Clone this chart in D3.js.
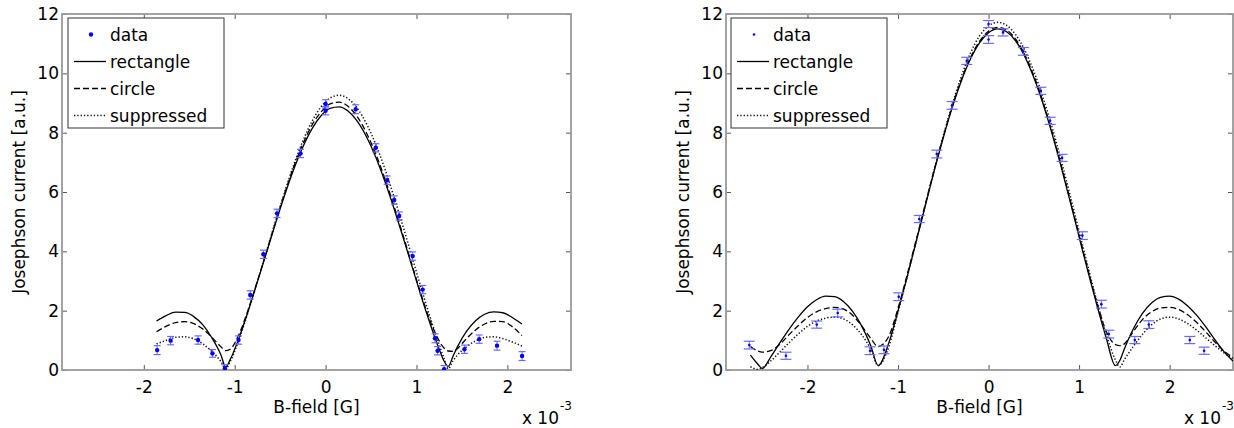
<!DOCTYPE html>
<html>
<head>
<meta charset="utf-8">
<script src="https://cdn.jsdelivr.net/npm/d3@7"></script>
<style>
body { margin: 0; background: #fff; }
svg text { font-family: "DejaVu Sans", sans-serif; font-size: 17px; fill: #000; }
</style>
</head>
<body>
<svg id="chart" width="1234" height="428"></svg>
<script>
// B-field in units of 1e-3 G, current in a.u.
var xTicks = [-2, -1, 0, 1, 2],
    yTicks = [0, 2, 4, 6, 8, 10, 12],
    legendLabels = ["data", "rectangle", "circle", "suppressed"];

// left panel measurements
var leftDataX = [-1.853, -1.705, -1.403, -1.245, -1.108, -0.958, -0.829, -0.685, -0.534, -0.276,
                 0.0, 0.0, 0.331, 0.552, 0.677, 0.755, 0.81, 0.958, 1.068, 1.204, 1.232, 1.304,
                 1.528, 1.69, 1.886, 2.162];
var leftDataY = [0.67, 0.99, 1.01, 0.56, 0.06, 1.01, 2.53, 3.90, 5.28, 7.30,
                 8.97, 8.74, 8.79, 7.49, 6.40, 5.73, 5.19, 3.84, 2.71, 1.07, 0.65, 0.03,
                 0.70, 1.04, 0.82, 0.47];
var leftDataErr = [0.15, 0.14, 0.14, 0.13, 0.12, 0.14, 0.14, 0.14, 0.14, 0.14,
                   0.14, 0.14, 0.15, 0.14, 0.14, 0.14, 0.14, 0.14, 0.14, 0.15, 0.14, 0.12,
                   0.14, 0.14, 0.15, 0.15];

// left panel model curves
var leftFitX = [-1.86, -1.75, -1.65, -1.55, -1.45, -1.35, -1.25, -1.15, -1.1, -1.05, -0.95, -0.85,
                -0.75, -0.65, -0.55, -0.45, -0.35, -0.25, -0.15, -0.05, 0.05, 0.15, 0.25, 0.35,
                0.45, 0.55, 0.65, 0.75, 0.85, 0.95, 1.05, 1.15, 1.25, 1.3, 1.35, 1.4, 1.45,
                1.55, 1.65, 1.75, 1.85, 1.95, 2.05, 2.16];
var leftRect = [1.65, 1.84, 1.95, 1.94, 1.80, 1.52, 1.08, 0.50, 0.10, 0.35, 1.10, 2.00,
                2.97, 3.96, 4.95, 5.90, 6.77, 7.52, 8.13, 8.57, 8.82, 8.87, 8.72, 8.38,
                7.86, 7.19, 6.38, 5.47, 4.50, 3.50, 2.50, 1.56, 0.70, 0.32, 0.12, 0.45, 0.78,
                1.30, 1.66, 1.88, 1.96, 1.93, 1.78, 1.55];
var leftCircle = [1.29, 1.48, 1.60, 1.63, 1.56, 1.38, 1.10, 0.78, 0.65, 0.70, 1.22, 2.05,
                  3.00, 3.99, 4.99, 5.96, 6.85, 7.62, 8.25, 8.70, 8.97, 9.03, 8.88, 8.53,
                  7.99, 7.30, 6.47, 5.55, 4.56, 3.55, 2.56, 1.66, 0.98, 0.75, 0.64, 0.63, 0.72,
                  1.06, 1.35, 1.55, 1.64, 1.63, 1.47, 1.16];
var leftSuppressed = [0.88, 1.00, 1.10, 1.12, 1.05, 0.88, 0.62, 0.28, 0.04, 0.28, 1.05, 1.98,
                      2.98, 4.00, 5.02, 6.00, 6.92, 7.72, 8.38, 8.87, 9.17, 9.26, 9.14, 8.82,
                      8.30, 7.62, 6.80, 5.86, 4.86, 3.82, 2.78, 1.78, 0.85, 0.42, 0.04, 0.30, 0.50,
                      0.78, 0.98, 1.10, 1.12, 1.06, 0.95, 0.81];

// right panel measurements
var rightDataX = [-2.643, -2.238, -1.898, -1.666, -1.309, -1.155, -0.992, -0.765, -0.572, -0.403,
                  -0.241, 0.0, 0.0, 0.16, 0.385, 0.577, 0.68, 0.812, 1.036, 1.246, 1.328,
                  1.615, 1.77, 2.223, 2.381];
var rightDataY = [0.84, 0.48, 1.53, 1.92, 0.65, 0.68, 2.47, 5.09, 7.28, 8.92,
                  10.42, 11.66, 11.14, 11.38, 10.74, 9.41, 8.40, 7.15, 4.53, 2.22, 1.21,
                  1.01, 1.53, 1.01, 0.65];
var rightDataErr = [0.13, 0.12, 0.12, 0.13, 0.13, 0.13, 0.13, 0.12, 0.13, 0.13,
                    0.12, 0.12, 0.13, 0.12, 0.13, 0.12, 0.12, 0.12, 0.13, 0.13, 0.13,
                    0.12, 0.13, 0.12, 0.12];

// right panel model curves
var rightFitX = [-2.63, -2.55, -2.5, -2.4, -2.3, -2.2, -2.1, -2.0, -1.9, -1.8, -1.7, -1.6, -1.5,
                 -1.4, -1.3, -1.22, -1.1, -1.0, -0.9, -0.8, -0.7, -0.6, -0.5, -0.4, -0.3, -0.2,
                 -0.1, 0.0, 0.1, 0.2, 0.3, 0.4, 0.5, 0.6, 0.7, 0.8, 0.9, 1.0, 1.1, 1.2, 1.3,
                 1.4, 1.45, 1.5, 1.6, 1.7, 1.8, 1.9, 2.0, 2.1, 2.2, 2.3, 2.4, 2.5, 2.6, 2.7];
var rightRect = [0.50, 0.20, 0.05, 0.47, 0.94, 1.39, 1.79, 2.13, 2.37, 2.49, 2.47, 2.30, 1.97,
                 1.48, 0.81, 0.15, 0.93, 1.99, 3.13, 4.32, 5.52, 6.71, 7.83, 8.86, 9.75, 10.48,
                 11.03, 11.37, 11.50, 11.40, 11.09, 10.57, 9.86, 8.99, 7.98, 6.87, 5.69, 4.49, 3.29, 2.15, 1.08,
                 0.15, 0.32, 0.71, 1.39, 1.91, 2.26, 2.45, 2.49, 2.39, 2.16, 1.84, 1.45, 1.02, 0.62, 0.30];
var rightCircle = [0.79, 0.64, 0.60, 0.66, 0.88, 1.20, 1.50, 1.77, 1.96, 2.07, 2.11, 2.05, 1.84,
                   1.48, 1.06, 0.79, 1.15, 2.08, 3.20, 4.38, 5.57, 6.75, 7.87, 8.89, 9.79, 10.53,
                   11.08, 11.42, 11.55, 11.46, 11.15, 10.63, 9.92, 9.05, 8.04, 6.93, 5.75, 4.55, 3.36, 2.24, 1.30,
                   0.86, 0.82, 0.88, 1.30, 1.70, 1.96, 2.09, 2.11, 2.04, 1.86, 1.60, 1.28, 0.94, 0.64, 0.42];
var rightSuppressed = [0.11, 0.02, 0.08, 0.32, 0.62, 0.93, 1.22, 1.47, 1.65, 1.75, 1.78, 1.72, 1.52,
                       1.18, 0.70, 0.15, 0.80, 1.95, 3.12, 4.33, 5.55, 6.75, 7.90, 8.96, 9.90, 10.68,
                       11.26, 11.60, 11.72, 11.62, 11.30, 10.78, 10.07, 9.20, 8.20, 7.09, 5.90, 4.68, 3.46, 2.28, 1.20,
                       0.35, 0.10, 0.35, 0.80, 1.20, 1.52, 1.72, 1.78, 1.72, 1.56, 1.34, 1.08, 0.82, 0.58, 0.38];

var svg = d3.select("#chart"),
    lineStyles = [
        { dash: null, color: "#000", width: 1.3 },
        { dash: "6,3", color: "#000", width: 1.3 },
        { dash: "1.3,2", color: "#111", width: 1.5 }
    ];

drawPanel({ id: "l", left: 62, right: 571, dataX: leftDataX, dataY: leftDataY, dataErr: leftDataErr,
    fitX: leftFitX, fits: [leftRect, leftCircle, leftSuppressed], dotR: 2.2, capW: 3.5, legendX: 68 });
drawPanel({ id: "r", left: 726, right: 1233, dataX: rightDataX, dataY: rightDataY, dataErr: rightDataErr,
    fitX: rightFitX, fits: [rightRect, rightCircle, rightSuppressed], dotR: 1.3, capW: 5.5, legendX: 731 });

function drawPanel(p) {
    var top = 14, bottom = 370,
        x = d3.scaleLinear().domain([-2.9, 2.7]).range([p.left, p.right]),
        y = d3.scaleLinear().domain([0, 12]).range([bottom, top]),
        g = svg.append("g");

    g.append("clipPath").attr("id", "clip-" + p.id)
        .append("rect").attr("x", p.left).attr("y", top)
        .attr("width", p.right - p.left).attr("height", bottom - top);

    // axes with inward ticks on all four sides
    var fmt = function (d) { return String(d); };
    g.append("g").attr("transform", "translate(0," + bottom + ")")
        .call(d3.axisBottom(x).tickValues(xTicks).tickSize(-5).tickPadding(11).tickFormat(fmt));
    g.append("g").attr("transform", "translate(0," + top + ")")
        .call(d3.axisTop(x).tickValues(xTicks).tickSize(-5).tickFormat(""));
    g.append("g").attr("transform", "translate(" + p.left + ",0)")
        .call(d3.axisLeft(y).tickValues(yTicks).tickSize(-5).tickPadding(3).tickFormat(fmt));
    g.append("g").attr("transform", "translate(" + p.right + ",0)")
        .call(d3.axisRight(y).tickValues(yTicks).tickSize(-5).tickFormat(""));
    g.selectAll(".domain").remove();
    g.selectAll(".tick line").attr("stroke", "#555").attr("stroke-width", 1);
    g.selectAll(".tick text").attr("font-family", "DejaVu Sans").attr("font-size", 17).attr("fill", "#000");

    g.append("rect").attr("x", p.left).attr("y", top)
        .attr("width", p.right - p.left).attr("height", bottom - top)
        .attr("fill", "none").attr("stroke", "#999").attr("stroke-width", 1.8);

    // model curves
    var plot = g.append("g").attr("clip-path", "url(#clip-" + p.id + ")");
    p.fits.forEach(function (vals, k) {
        var line = d3.line()
            .x(function (d, i) { return x(p.fitX[i]); })
            .y(function (d) { return y(d); })
            .curve(d3.curveMonotoneX);
        plot.append("path").attr("d", line(vals))
            .attr("fill", "none")
            .attr("stroke", lineStyles[k].color)
            .attr("stroke-width", lineStyles[k].width)
            .attr("stroke-dasharray", lineStyles[k].dash);
    });

    // data with error bars
    var pts = plot.selectAll(".pt").data(p.dataY).enter().append("g").attr("class", "pt");
    pts.append("line")
        .attr("x1", function (d, i) { return x(p.dataX[i]); })
        .attr("x2", function (d, i) { return x(p.dataX[i]); })
        .attr("y1", function (d, i) { return y(d - p.dataErr[i]); })
        .attr("y2", function (d, i) { return y(d + p.dataErr[i]); })
        .attr("stroke", "#6a6aff").attr("stroke-width", 1);
    [-1, 1].forEach(function (s) {
        pts.append("line")
            .attr("x1", function (d, i) { return x(p.dataX[i]) - p.capW; })
            .attr("x2", function (d, i) { return x(p.dataX[i]) + p.capW; })
            .attr("y1", function (d, i) { return y(d + s * p.dataErr[i]); })
            .attr("y2", function (d, i) { return y(d + s * p.dataErr[i]); })
            .attr("stroke", "#6a6aff").attr("stroke-width", 1.2);
    });
    pts.append("circle")
        .attr("cx", function (d, i) { return x(p.dataX[i]); })
        .attr("cy", function (d) { return y(d); })
        .attr("r", p.dotR).attr("fill", "#0000ff");

    // axis labels
    g.append("text").attr("x", (p.left + p.right) / 2).attr("y", 413)
        .attr("text-anchor", "middle").text("B-field [G]");
    g.append("text").attr("transform", "translate(" + (p.left - 43) + "," + ((top + bottom) / 2) + ") rotate(-90)")
        .attr("text-anchor", "middle").attr("dy", "0.35em").text("Josephson current [a.u.]");
    g.append("text").attr("x", p.right - 12).attr("y", 424)
        .attr("text-anchor", "end").text("x 10");
    g.append("text").attr("x", p.right - 11).attr("y", 410)
        .style("font-size", "12px").text("-3");

    // legend
    var lx = p.legendX, ly = 18,
        lg = g.append("g");
    lg.append("rect").attr("x", lx).attr("y", ly).attr("width", 156).attr("height", 110)
        .attr("fill", "#fff").attr("stroke", "#333").attr("stroke-width", 1);
    legendLabels.forEach(function (name, k) {
        var cy = ly + 16.5 + k * 27;
        if (k === 0) {
            lg.append("circle").attr("cx", lx + 23).attr("cy", cy).attr("r", p.dotR).attr("fill", "#0000ff");
        } else {
            var st = lineStyles[k - 1];
            lg.append("line").attr("x1", lx + 6).attr("x2", lx + 38).attr("y1", cy).attr("y2", cy)
                .attr("stroke", st.color).attr("stroke-width", st.width)
                .attr("stroke-dasharray", st.dash);
        }
        lg.append("text").attr("x", lx + 42).attr("y", cy + 6.5).text(name);
    });
}
</script>
</body>
</html>
